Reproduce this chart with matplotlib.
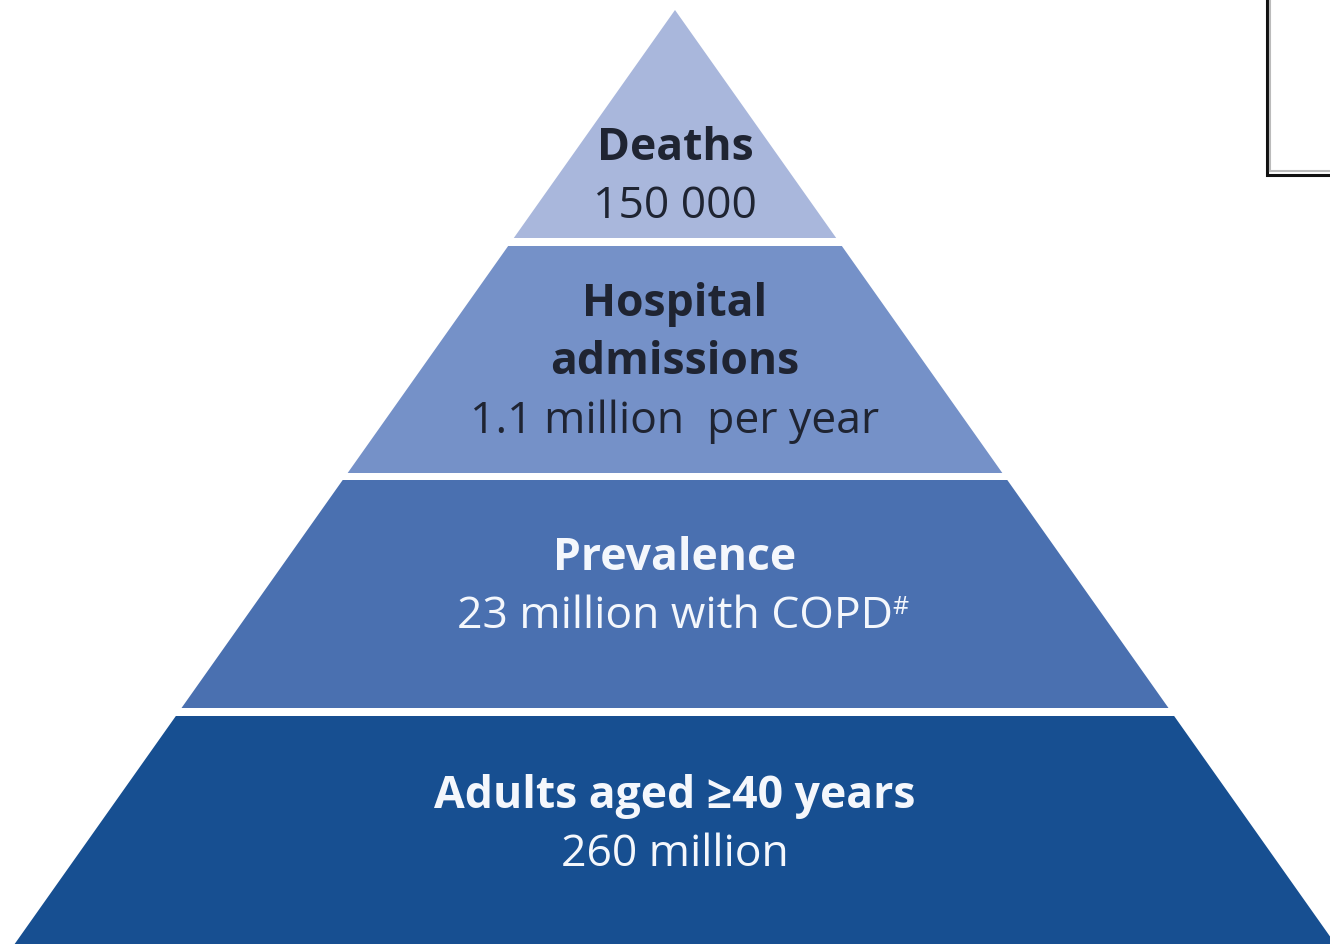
import matplotlib
matplotlib.use("Agg")
import matplotlib.pyplot as plt
from matplotlib.patches import Polygon, Rectangle

plt.rcParams['font.family'] = ['Open Sans', 'DejaVu Sans']

# Tiers from top (apex) to bottom (base)
tier_titles = [["Deaths"], ["Hospital", "admissions"], ["Prevalence"], ["Adults aged \u226540 years"]]
tier_values = ["150 000", "1.1 million  per year", "23 million with COPD", "260 million"]
tier_marks = ["", "", "#", ""]
tier_colors = ["#a9b7dc", "#7591c8", "#4a70b0", "#174f91"]
text_colors = ["#1f2432", "#1f2432", "#f4f7fc", "#f4f7fc"]

W, H = 1330, 944
fig = plt.figure(figsize=(W / 100, H / 100), dpi=100)
ax = fig.add_axes([0, 0, 1, 1])
ax.set_xlim(0, W)
ax.set_ylim(H, 0)
ax.axis("off")

apex_x, apex_y = 675, 10
slope = 0.707           # horizontal run per unit of depth
band_top = [10, 246, 480, 716]
band_bot = [238, 473, 708, 960]

def half_width(y):
    return (y - apex_y) * slope

for i, col in enumerate(tier_colors):
    y0, y1 = band_top[i], band_bot[i]
    w0, w1 = half_width(y0), half_width(y1)
    ax.add_patch(Polygon([(apex_x - w0, y0), (apex_x + w0, y0),
                          (apex_x + w1, y1), (apex_x - w1, y1)],
                         closed=True, facecolor=col, edgecolor="none"))

fs = 32
line_gap = 58.5
first_baseline = [160, 316, 570, 808]
fig.canvas.draw()
renderer = fig.canvas.get_renderer()
for i in range(len(tier_titles)):
    y = first_baseline[i]
    for t in tier_titles[i]:
        ax.text(apex_x, y, t, ha="center", va="baseline", fontsize=fs,
                fontweight="bold", color=text_colors[i])
        y += line_gap
    vt = ax.text(apex_x, y, tier_values[i], ha="center", va="baseline",
                 fontsize=fs, color=text_colors[i])
    if tier_marks[i]:
        bb = vt.get_window_extent(renderer=renderer)
        x_end, _ = ax.transData.inverted().transform((bb.x1, bb.y1))
        ax.text(x_end - 1, y - 15, tier_marks[i], ha="left", va="baseline",
                fontsize=18, color=text_colors[i])

# framed box at the top-right corner
ax.add_patch(Rectangle((1267, -10), 100, 185, facecolor="white",
                       edgecolor="#111111", linewidth=2.2))
ax.plot([1270, 1270], [0, 171], color="#bbbbbb", lw=1.5)
ax.plot([1270, 1335], [171, 171], color="#bbbbbb", lw=1.5)

fig.savefig("out.png", dpi=100)
